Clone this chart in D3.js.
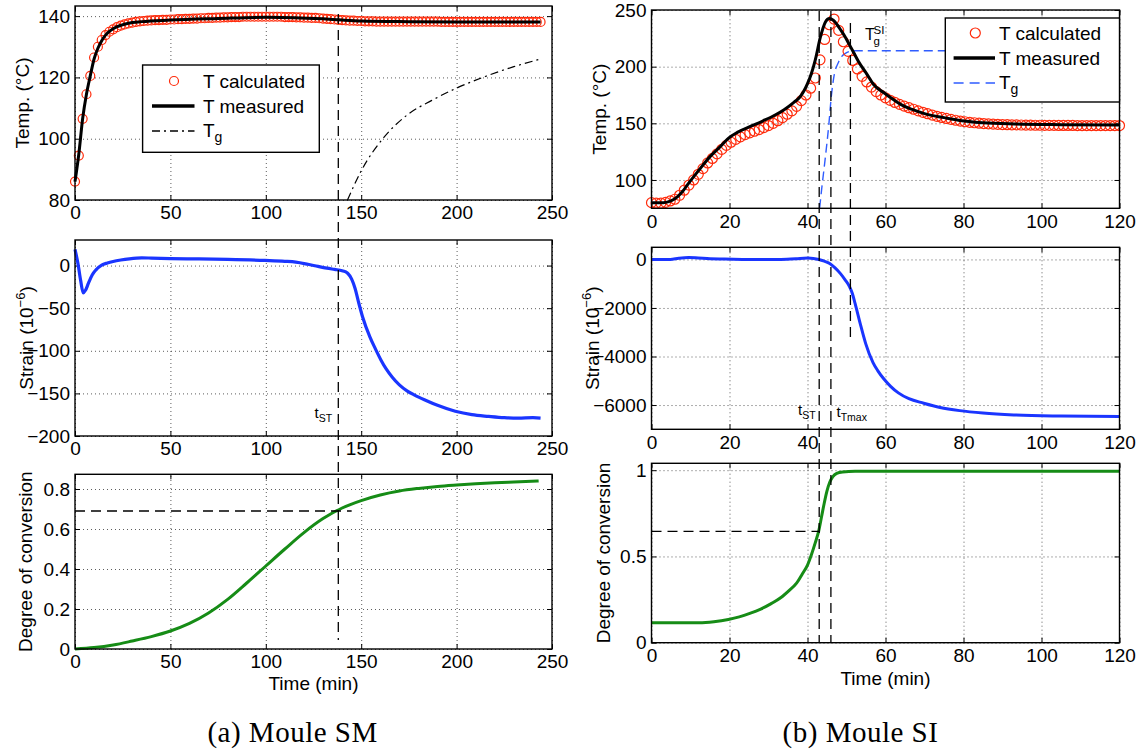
<!DOCTYPE html>
<html>
<head>
<meta charset="utf-8">
<title>Moule SM / Moule SI</title>
<script src="https://cdn.jsdelivr.net/npm/d3@7"></script>
<style>
    body { margin: 0; background: #fff; }
    text { font-family: "Liberation Sans", Arial, Helvetica, sans-serif; }
    .grid line { stroke: #333; stroke-width: 0.8; stroke-dasharray: 1, 3; }
</style>
</head>
<body>
<svg id="fig" width="1146" height="752"></svg>
<script>
    // ---------- Moule SM (left) ----------
    var smTicksX = [0, 50, 100, 150, 200, 250];
    var smTicksTemp = [80, 100, 120, 140];
    var smTicksStrain = [-200, -150, -100, -50, 0];
    var smTicksConv = [0, 0.2, 0.4, 0.6, 0.8];

    // T calculated, one value every 2 min from t = 0
    var smCalcStep = 2;
    var smCalc = [86, 94.5, 106.5, 114.5, 120.5, 126.5, 130, 132.2, 133.8, 134.9,
        135.7, 136.4, 136.9, 137.3, 137.6, 137.9, 138.1, 138.3, 138.4, 138.5, 138.6,
        138.7, 138.7, 138.8, 138.8, 138.9, 138.9, 139.0, 139.0, 139.1,
        139.1, 139.2, 139.2, 139.3, 139.3, 139.4, 139.4, 139.5, 139.5, 139.6,
        139.6, 139.7, 139.7, 139.7, 139.8, 139.8, 139.8, 139.8, 139.8, 139.8,
        139.8, 139.8, 139.8, 139.8, 139.8, 139.7, 139.7, 139.7, 139.6, 139.6,
        139.5, 139.5, 139.4, 139.4, 139.3, 139.2, 139.1, 139.0, 138.9, 138.8,
        138.7, 138.6, 138.5, 138.5, 138.4, 138.4, 138.3, 138.3, 138.3, 138.2, 138.2,
        138.2, 138.2, 138.2, 138.2, 138.2, 138.2, 138.2, 138.2, 138.2, 138.2,
        138.2, 138.2, 138.2, 138.2, 138.2, 138.1, 138.1, 138.1, 138.1, 138.1,
        138.1, 138.1, 138.1, 138.1, 138.1, 138.1, 138.1, 138.1, 138.1, 138.1,
        138.1, 138.1, 138.1, 138.1, 138.1, 138.1, 138.1, 138.1, 138.1, 138.1, 138.1, 138.1];

    var smMeasured = [[0, 86], [2, 95], [4, 106.5], [6, 114.5], [8, 120.5], [10, 126], [12, 129.5],
        [14, 132], [16, 133.8], [18, 135], [20, 135.9], [24, 137], [28, 137.7], [35, 138.2],
        [50, 138.7], [75, 139.2], [100, 139.6], [115, 139.5], [130, 139.1], [140, 138.7],
        [150, 138.4], [175, 138.2], [200, 138.1], [244, 138.1]];

    var smTg = [[142.8, 80], [150, 89.5], [162, 100.5], [174, 107.7], [187, 112.5],
        [200, 116.5], [215, 120.3], [230, 123.5], [244, 126]];

    var smStrain = [[0, 19], [1.5, 3], [3, -18], [4.3, -32], [5.5, -29], [7, -21], [9, -11],
        [11, -5], [14, 0.5], [17, 3], [20, 4.8], [24, 6.5], [28.5, 7.9], [35, 9], [40, 8.8],
        [50, 8.2], [65, 7.8], [80, 7.2], [99.6, 6], [110, 5], [115.7, 4], [122, 1.5],
        [127.4, -1], [132, -3], [136, -4.5], [140, -6], [142.9, -9], [145, -16], [146.8, -27],
        [148.5, -42], [150.7, -60], [154.6, -84], [157.5, -98], [160.4, -111], [163, -121],
        [166.3, -131], [170, -140], [174, -147], [178, -152], [183.7, -158], [190, -164],
        [199.3, -171], [208, -175], [216.8, -177], [225, -178.5], [232.3, -179], [240, -178.5],
        [244, -179]];

    var smConv = [[0, 0], [10, 0.007], [20, 0.02], [30, 0.04], [40, 0.062], [50, 0.09],
        [60, 0.128], [70, 0.18], [80, 0.248], [90, 0.33], [100, 0.415], [110, 0.5],
        [120, 0.582], [130, 0.652], [140, 0.705], [150, 0.742], [160, 0.77], [170, 0.79],
        [180, 0.803], [190, 0.813], [200, 0.82], [210, 0.826], [220, 0.831], [230, 0.835],
        [243, 0.84]];

    var smTST = 138;
    var smConvST = 0.69;

    // ---------- Moule SI (right) ----------
    var siTicksX = [0, 20, 40, 60, 80, 100, 120];
    var siTicksTemp = [100, 150, 200, 250];
    var siTicksStrain = [-6000, -4000, -2000, 0];
    var siTicksConv = [0, 0.5, 1];

    // T calculated, one value every 1.2 min from t = 0
    var siCalcStep = 1.2;
    var siCalc = [80, 79.6, 79.5, 80.2, 81.5, 83, 86.5, 91, 95.5, 100,
        105, 110, 115, 119, 123, 127, 130.5, 133.3, 135.8, 138,
        140, 141.6, 143, 144.5, 146.2, 148, 150, 152.3, 155, 158,
        161, 165, 170, 175, 181, 190, 206, 224, 237, 242,
        232, 222, 213.5, 205.5, 198, 191.5, 186.5, 182, 178, 175,
        172.5, 170.3, 168.4, 166.7, 165.2, 163.8, 162.4, 161, 159.7, 158.5,
        157.3, 156.2, 155.2, 154.3, 153.5, 152.7, 152, 151.4, 150.9, 150.5,
        150.1, 149.8, 149.5, 149.3, 149.1, 148.9, 148.8, 148.7, 148.6, 148.5,
        148.4, 148.4, 148.3, 148.3, 148.2, 148.2, 148.2, 148.1, 148.1, 148.1,
        148.1, 148.0, 148.0, 148.0, 148.0, 148.0, 148.0, 148.0, 148.0, 148.0, 148.0];

    var siMeasured = [[0, 80], [3, 80], [5, 81.5], [6.7, 85.3], [8, 90], [9.5, 97], [12.2, 108.8],
        [15, 120.6], [17.5, 129], [19.7, 136.8], [22, 142], [25.2, 147], [28.5, 152],
        [31.7, 157.3], [34, 162], [36.5, 168.5], [38, 173], [39, 178], [40, 185], [41, 194],
        [42, 206], [43.3, 226], [44.6, 239.5], [45.6, 242.5], [46.6, 241], [47.6, 237],
        [48.6, 232], [49.7, 226], [50.8, 219], [51.9, 212], [53, 205], [55.3, 193], [57, 184],
        [59.6, 177], [62, 171], [64, 166.5], [67, 162], [70, 158.5], [75, 155], [79, 152.5],
        [85, 150.5], [93, 149.4], [105, 148.8], [120, 148.5]];

    var siTg = [[43.1, 75], [43.7, 94], [44.6, 120.6], [45.5, 150], [46.1, 173.5], [46.7, 189.7],
        [48, 204.4], [49.7, 211.8], [51.9, 214], [60, 214], [120, 214]];

    var siStrain = [[0, 0], [4.8, 0], [7, 50], [9.5, 80], [12, 60], [15, 30], [18.7, 20], [25, 0],
        [32.6, 0], [37, 30], [40.1, 55], [41.5, 40], [42.9, 0], [44.3, -70], [45.7, -165],
        [47, -340], [48.4, -576], [49.6, -830], [50.8, -1128], [51.5, -1400], [52.2, -1811],
        [53.5, -2634], [54.9, -3457], [56.8, -4250], [58, -4580], [59.6, -4930], [61.3, -5230],
        [63.3, -5500], [66, -5740], [69.8, -5926], [74, -6100], [79, -6230], [85, -6330],
        [92.9, -6407], [105, -6455], [120, -6477]];

    var siConv = [[0, 0.116], [12.2, 0.116], [16, 0.122], [19.7, 0.135], [22.5, 0.15], [25.2, 0.17],
        [28, 0.195], [30.8, 0.228], [33.2, 0.262], [35.4, 0.305], [37.2, 0.345], [38.7, 0.4],
        [40, 0.45], [41, 0.51], [42, 0.58], [42.9, 0.65], [43.6, 0.73], [44.3, 0.81],
        [45, 0.88], [45.7, 0.93], [46.5, 0.963], [47.5, 0.982], [49, 0.99], [52.2, 0.994],
        [120, 0.994]];

    var siTST = 43;
    var siTTmax = 46;
    var siTTg = 51;
    var siConvST = 0.645;
    var siStrainTg = -3400;

    // ---------- drawing ----------
    var svg = d3.select("#fig");
    svg.append("rect").attr("width", 1146).attr("height", 752).attr("fill", "#fff");

    var RED = "#ff2a0a", BLUE = "#1a35ff", GREEN = "#168c16";

    function fmt(d) {
        return d < 0 ? "\u2212" + Math.abs(d) : String(d);
    }

    function panel(p) {
        var g = svg.append("g");
        var x = d3.scaleLinear().domain(p.xd).range([p.x0, p.x1]);
        var y = d3.scaleLinear().domain(p.yd).range([p.y1, p.y0]);
        var w = p.x1 - p.x0, h = p.y1 - p.y0;

        // dotted grid
        g.append("g").attr("class", "grid").attr("transform", "translate(0," + p.y1 + ")")
            .call(d3.axisBottom(x).tickValues(p.xt).tickSize(-h).tickFormat(""))
            .call(function(s) { s.select(".domain").remove(); });
        g.append("g").attr("class", "grid").attr("transform", "translate(" + p.x0 + ",0)")
            .call(d3.axisLeft(y).tickValues(p.yt).tickSize(-w).tickFormat(""))
            .call(function(s) { s.select(".domain").remove(); });

        // inward ticks on all four sides, labels bottom/left
        var ax = [
            [d3.axisBottom(x).tickValues(p.xt).tickFormat(fmt).tickPadding(6), "translate(0," + p.y1 + ")"],
            [d3.axisTop(x).tickValues(p.xt).tickFormat(""), "translate(0," + p.y0 + ")"],
            [d3.axisLeft(y).tickValues(p.yt).tickFormat(fmt).tickPadding(5), "translate(" + p.x0 + ",0)"],
            [d3.axisRight(y).tickValues(p.yt).tickFormat(""), "translate(" + p.x1 + ",0)"]
        ];
        ax.forEach(function(a) {
            g.append("g").attr("transform", a[1])
                .call(a[0].tickSizeInner(-5).tickSizeOuter(0))
                .call(function(s) {
                    s.select(".domain").remove();
                    s.selectAll("line").attr("stroke", "#000").attr("stroke-width", 1);
                    s.selectAll("text").attr("font-size", 19).attr("fill", "#000")
                        .attr("font-family", "Liberation Sans, Arial, sans-serif");
                });
        });

        var plot = svg.append("g");
        svg.append("rect").attr("x", p.x0).attr("y", p.y0).attr("width", w).attr("height", h)
            .attr("fill", "none").attr("stroke", "#000").attr("stroke-width", 1.4);

        // y label
        var yl = svg.append("text")
            .attr("transform", "translate(" + p.lx + "," + (p.y0 + p.y1) / 2 + ") rotate(-90)")
            .attr("text-anchor", "middle").attr("font-size", 19);
        p.label.forEach(function(part) {
            var t = yl.append("tspan").text(part[0]);
            if (part[1]) t.attr("font-size", 13).attr("dy", -8);
            else if (part[2]) t.attr("dy", 8);
        });
        return { x: x, y: y, g: plot };
    }

    function curve(P, data, color, width, dash) {
        var line = d3.line().x(function(d) { return P.x(d[0]); })
            .y(function(d) { return P.y(d[1]); }).curve(d3.curveMonotoneX);
        P.g.append("path").datum(data).attr("d", line).attr("fill", "none")
            .attr("stroke", color).attr("stroke-width", width)
            .attr("stroke-dasharray", dash || null).attr("stroke-linejoin", "round");
    }

    function circles(P, vals, step, r) {
        P.g.selectAll(null).data(vals).enter().append("circle")
            .attr("cx", function(d, i) { return P.x(i * step); })
            .attr("cy", function(d) { return P.y(d); })
            .attr("r", r).attr("fill", "none").attr("stroke", RED).attr("stroke-width", 1.2);
    }

    function dashLine(x1, y1, x2, y2) {
        svg.append("line").attr("x1", x1).attr("y1", y1).attr("x2", x2).attr("y2", y2)
            .attr("stroke", "#000").attr("stroke-width", 1.3).attr("stroke-dasharray", "10,6");
    }

    function sub(x, y, main, s, size) {
        var t = svg.append("text").attr("x", x).attr("y", y).attr("font-size", size);
        t.append("tspan").text(main);
        t.append("tspan").text(s).attr("font-size", size * 0.7).attr("dy", 4);
        return t;
    }

    // --- left column
    var L = { x0: 75, x1: 552, xd: [0, 250], xt: smTicksX };
    var sT = panel(Object.assign({}, L, { y0: 6, y1: 200, yd: [80, 143.3], yt: smTicksTemp, lx: 28.5,
        label: [["Temp. (\u00B0C)"]] }));
    var sS = panel(Object.assign({}, L, { y0: 240, y1: 436, yd: [-200, 30], yt: smTicksStrain, lx: 33,
        label: [["Strain (10"], ["\u22126", true], [")", false, true]] }));
    var sC = panel(Object.assign({}, L, { y0: 474.3, y1: 649, yd: [0, 0.8735], yt: smTicksConv, lx: 32,
        label: [["Degree of conversion"]] }));

    curve(sT, smTg, "#000", 1.2, "8,4,2,4");
    circles(sT, smCalc, smCalcStep, 4.5);
    curve(sT, smMeasured, "#000", 3);
    curve(sS, smStrain, BLUE, 3.2);
    curve(sC, smConv, GREEN, 3);

    dashLine(L.x0, sC.y(smConvST), sC.x(145), sC.y(smConvST));
    dashLine(sT.x(smTST), 14, sT.x(smTST), 640);
    sub(314.5, 418, "t", "ST", 15);

    // --- right column
    var R = { x0: 651.5, x1: 1119.5, xd: [0, 120], xt: siTicksX };
    var rT = panel(Object.assign({}, R, { y0: 10, y1: 208.3, yd: [75, 250], yt: siTicksTemp, lx: 606,
        label: [["Temp. (\u00B0C)"]] }));
    var rS = panel(Object.assign({}, R, { y0: 247.3, y1: 429.3, yd: [-7000, 500], yt: siTicksStrain, lx: 599,
        label: [["Strain (10"], ["\u22126", true], [")", false, true]] }));
    var rC = panel(Object.assign({}, R, { y0: 463.3, y1: 642.7, yd: [0, 1.04], yt: siTicksConv, lx: 610,
        label: [["Degree of conversion"]] }));

    curve(rT, siTg, "#2f5cff", 1.4, "9,5");
    circles(rT, siCalc, siCalcStep, 5);
    curve(rT, siMeasured, "#000", 3);
    curve(rS, siStrain, BLUE, 3);
    curve(rC, siConv, GREEN, 3);

    dashLine(R.x0, rC.y(siConvST), rC.x(siTST), rC.y(siConvST));
    dashLine(rT.x(siTST), 11, rT.x(siTST), 642);
    dashLine(rT.x(siTTmax), 11, rT.x(siTTmax), 642);
    dashLine(rT.x(siTTg), 23, rT.x(siTTg), rS.y(siStrainTg));
    sub(798, 415, "t", "ST", 15);
    sub(836.5, 416.5, "t", "Tmax", 15);

    svg.append("text").attr("x", 865).attr("y", 40).attr("font-size", 16).text("T");
    svg.append("text").attr("x", 873.5).attr("y", 33.5).attr("font-size", 11.5).text("SI");
    svg.append("text").attr("x", 873.5).attr("y", 45).attr("font-size", 11.5).text("g");

    // --- legends
    function legend(bx, by, bw, bh, cx, lx1, lx2, tx, ys, tgDash, tgColor, r) {
        svg.append("rect").attr("x", bx).attr("y", by).attr("width", bw).attr("height", bh)
            .attr("fill", "#fff").attr("stroke", "#000").attr("stroke-width", 1.4);
        svg.append("circle").attr("cx", cx).attr("cy", ys[0]).attr("r", r)
            .attr("fill", "none").attr("stroke", RED).attr("stroke-width", 1.2);
        svg.append("line").attr("x1", lx1).attr("x2", lx2).attr("y1", ys[1]).attr("y2", ys[1])
            .attr("stroke", "#000").attr("stroke-width", 3.5);
        svg.append("line").attr("x1", lx1).attr("x2", lx2).attr("y1", ys[2]).attr("y2", ys[2])
            .attr("stroke", tgColor).attr("stroke-width", 1.4).attr("stroke-dasharray", tgDash);
        svg.append("text").attr("x", tx).attr("y", ys[0] + 7).attr("font-size", 19).text("T calculated");
        svg.append("text").attr("x", tx).attr("y", ys[1] + 7).attr("font-size", 19).text("T measured");
        var t = svg.append("text").attr("x", tx).attr("y", ys[2] + 6).attr("font-size", 19);
        t.append("tspan").text("T");
        t.append("tspan").text("g").attr("font-size", 14).attr("dy", 5);
    }
    legend(142.6, 65, 176.7, 87.3, 174, 152, 194.5, 203, [81, 106, 131], "8,4,2,4", "#000", 4.5);
    legend(945.3, 18, 174.2, 84, 975.3, 953.6, 995, 999, [33, 58, 83], "10,6", "#2f5cff", 5);

    // --- x titles and captions
    svg.append("text").attr("x", (L.x0 + L.x1) / 2).attr("y", 690).attr("text-anchor", "middle")
        .attr("font-size", 19).text("Time (min)");
    svg.append("text").attr("x", (R.x0 + R.x1) / 2).attr("y", 685).attr("text-anchor", "middle")
        .attr("font-size", 19).text("Time (min)");
    svg.append("text").attr("x", 292.6).attr("y", 742).attr("text-anchor", "middle")
        .attr("font-size", 29).attr("letter-spacing", 0.5)
        .style("font-family", "'Liberation Serif', 'DejaVu Serif', serif").text("(a) Moule SM");
    svg.append("text").attr("x", 860.5).attr("y", 742).attr("text-anchor", "middle")
        .attr("font-size", 29).attr("letter-spacing", 0.5)
        .style("font-family", "'Liberation Serif', 'DejaVu Serif', serif").text("(b) Moule SI");
</script>
</body>
</html>
